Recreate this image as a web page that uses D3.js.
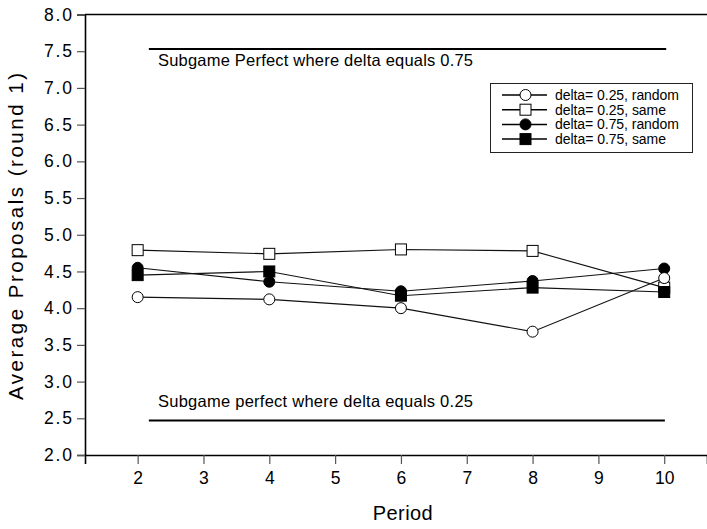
<!DOCTYPE html>
<html>
<head>
<meta charset="utf-8">
<script src="https://cdn.jsdelivr.net/npm/d3@7"></script>
<style>
  html, body { margin: 0; padding: 0; background: #fff; }
  svg { display: block; }
  text { font-family: "Liberation Sans", Arial, sans-serif; fill: #000; }
</style>
</head>
<body>
<svg id="chart" width="707" height="529"></svg>
<script>
// ---- data ----
const periods = [2, 4, 6, 8, 10];
const xTicks = [2, 3, 4, 5, 6, 7, 8, 9, 10];
const yTicks = [2.0, 2.5, 3.0, 3.5, 4.0, 4.5, 5.0, 5.5, 6.0, 6.5, 7.0, 7.5, 8.0];

const seriesNames = ["delta= 0.25, random", "delta= 0.25, same", "delta= 0.75, random", "delta= 0.75, same"];
const d025random = [4.15, 4.12, 4.00, 3.68, 4.41];
const d025same   = [4.79, 4.74, 4.80, 4.78, 4.28];
const d075random = [4.55, 4.36, 4.23, 4.37, 4.54];
const d075same   = [4.45, 4.50, 4.17, 4.28, 4.22];

const refLabels = ["Subgame Perfect where delta equals 0.75", "Subgame perfect where delta equals 0.25"];
const refValues = [7.53, 2.47];
const refStart = [2.17, 2.17];
const refEnd = [10.03, 10.01];

const xTitle = "Period";
const yTitle = "Average Proposals (round 1)";

// ---- setup ----
const svg = d3.select("#chart");
const x = d3.scaleLinear().domain([1.2, 10.65]).range([85, 707]);
const y = d3.scaleLinear().domain([2, 8]).range([455, 14.5]);

const series = [
  { name: seriesNames[0], values: d025random, shape: "circle", fill: "#fff" },
  { name: seriesNames[1], values: d025same,   shape: "square", fill: "#fff" },
  { name: seriesNames[2], values: d075random, shape: "circle", fill: "#000" },
  { name: seriesNames[3], values: d075same,   shape: "square", fill: "#000" }
];

// top frame line
svg.append("line")
  .attr("x1", x.range()[0]).attr("x2", x.range()[1])
  .attr("y1", y(8)).attr("y2", y(8))
  .attr("stroke", "#000").attr("stroke-width", 1.6);

// axes
const xAxis = svg.append("g")
  .attr("transform", `translate(0,${y(2)})`)
  .call(d3.axisBottom(x).tickValues(xTicks).tickFormat(d3.format("d")).tickSizeOuter(0).tickSize(9).tickPadding(8));
xAxis.select(".domain").attr("stroke", "#000").attr("stroke-width", 1.6);
xAxis.selectAll(".tick line").attr("stroke", "#555").attr("stroke-width", 1.2);
xAxis.selectAll(".tick text")
  .attr("font-size", 17.5).attr("font-family", "Liberation Sans, Arial, sans-serif")
  .attr("fill", "#000").attr("dy", "0.71em")
  .attr("textLength", d => d >= 10 ? 19.5 : 9.8).attr("lengthAdjust", "spacing");

const yAxis = svg.append("g")
  .attr("transform", `translate(${x(1.2)},0)`)
  .call(d3.axisLeft(y).tickValues(yTicks).tickFormat(d3.format(".1f")).tickSizeOuter(0).tickSize(8).tickPadding(5));
yAxis.select(".domain").attr("stroke", "#000").attr("stroke-width", 1.6);
yAxis.selectAll(".tick line").attr("stroke", "#555").attr("stroke-width", 1.2);
yAxis.selectAll(".tick text")
  .attr("font-size", 17.5).attr("font-family", "Liberation Sans, Arial, sans-serif")
  .attr("fill", "#000")
  .attr("textLength", 28).attr("lengthAdjust", "spacing");

// axis titles
svg.append("text")
  .attr("x", 402.7).attr("y", 520)
  .attr("text-anchor", "middle")
  .attr("font-size", 20)
  .attr("textLength", 60).attr("lengthAdjust", "spacing")
  .text(xTitle);

svg.append("text")
  .attr("transform", "rotate(-90)")
  .attr("x", -236.5).attr("y", 23)
  .attr("text-anchor", "middle")
  .attr("font-size", 20.5)
  .attr("textLength", 327).attr("lengthAdjust", "spacing")
  .text(yTitle);

// reference lines and labels
const refLabelBaselines = [66, 406.7];
refValues.forEach((v, i) => {
  svg.append("line")
    .attr("x1", x(refStart[i])).attr("x2", x(refEnd[i]))
    .attr("y1", y(v)).attr("y2", y(v))
    .attr("stroke", "#000").attr("stroke-width", 2.2);
  svg.append("text")
    .attr("x", 158).attr("y", refLabelBaselines[i])
    .attr("font-size", 16.5)
    .attr("textLength", 315).attr("lengthAdjust", "spacing")
    .text(refLabels[i]);
});

// data lines
const line = d3.line().x((d, i) => x(periods[i])).y(d => y(d));
series.forEach(s => {
  svg.append("path")
    .attr("d", line(s.values))
    .attr("fill", "none")
    .attr("stroke", "#111")
    .attr("stroke-width", 1.1);
});

function drawMarker(g, shape, fill, cx, cy) {
  if (shape === "circle") {
    g.append("circle").attr("cx", cx).attr("cy", cy).attr("r", 5.5)
      .attr("fill", fill).attr("stroke", "#000").attr("stroke-width", 1);
  } else {
    g.append("rect").attr("x", cx - 5.5).attr("y", cy - 5.5)
      .attr("width", 11).attr("height", 11)
      .attr("fill", fill).attr("stroke", "#000").attr("stroke-width", 1);
  }
}

// markers (draw order chosen to match overlaps)
const markerOrder = [1, 2, 0, 3];
const mg = svg.append("g");
markerOrder.forEach(k => {
  const s = series[k];
  s.values.forEach((v, i) => drawMarker(mg, s.shape, s.fill, x(periods[i]), y(v)));
});

// legend
const legend = svg.append("g");
legend.append("rect")
  .attr("x", 490.5).attr("y", 83.5).attr("width", 202).attr("height", 69)
  .attr("fill", "#fff").attr("stroke", "#222").attr("stroke-width", 1);
const legendLen = [124, 111, 124, 111];
series.forEach((s, i) => {
  const cy = 95 + i * 14.7;
  legend.append("line")
    .attr("x1", 502).attr("x2", 547).attr("y1", cy).attr("y2", cy)
    .attr("stroke", "#000").attr("stroke-width", 1.5);
  drawMarker(legend, s.shape, s.fill, 525.5, cy);
  legend.append("text")
    .attr("x", 555).attr("y", cy).attr("dy", "0.36em")
    .attr("font-size", 14)
    .attr("textLength", legendLen[i]).attr("lengthAdjust", "spacing")
    .text(s.name);
});
</script>
</body>
</html>
